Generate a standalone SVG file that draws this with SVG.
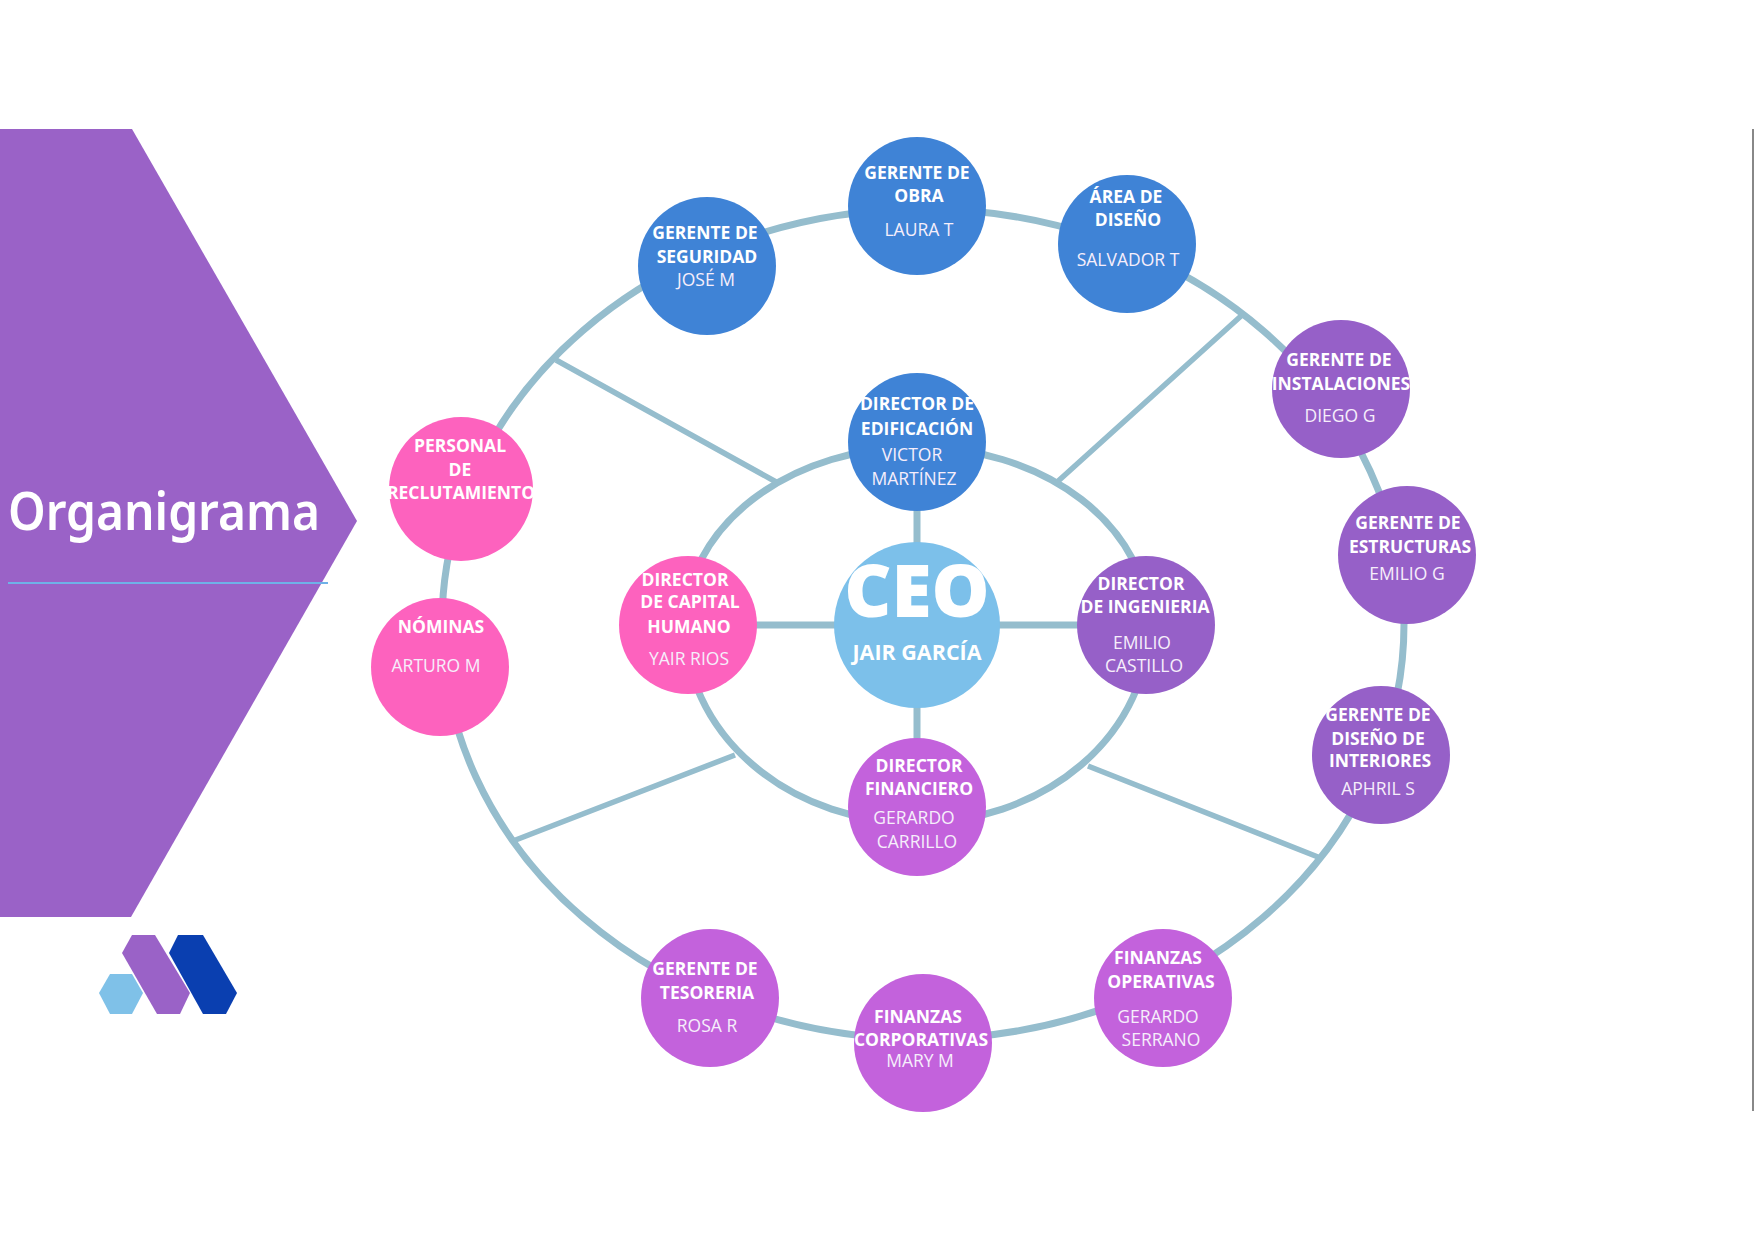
<svg xmlns="http://www.w3.org/2000/svg" width="1755" height="1240" viewBox="0 0 1755 1240">
<style>
text{font-family:"Open Sans","Noto Sans","Liberation Sans",sans-serif;fill:#fff;text-anchor:middle}
.t{font-weight:700;font-size:17.5px}
.n{font-weight:400;font-size:17.5px;fill:#f6eefb}
.ring{fill:none;stroke:#95bdcd;stroke-width:7}
.spoke{fill:none;stroke:#95bdcd;stroke-width:5.5}
.blue{fill:#3f83d6}.pink{fill:#fd62be}.purple{fill:#9660c8}.lilac{fill:#c362dc}.sky{fill:#7cc0ea}
</style>
<rect width="1755" height="1240" fill="#fff"/>
<g id="banner">
<polygon points="0,129 132,129 357,521 131,917 0,917" fill="#9a62c7"/>
<text x="8" y="530" textLength="312" lengthAdjust="spacingAndGlyphs" style="font-family:'Noto Sans','Open Sans',sans-serif;font-weight:600;font-size:53px;text-anchor:start">Organigrama</text>
<line x1="8" y1="583" x2="328" y2="583" stroke="#6fb1e8" stroke-width="2"/>
</g>
<g id="logo">
<polygon points="99,993 110,974 132,974 143,993 132,1014 110,1014" fill="#7fc1e8"/>
<polygon points="122,953 132,935 155,935 190,993 180,1014 157,1014" fill="#9a62c7"/>
<polygon points="169,953 178,935 203,935 237,993 226,1014 203,1014" fill="#0a3fb0"/>
</g>
<line id="edge" x1="1753" y1="129" x2="1753" y2="1111" stroke="#888" stroke-width="2"/>
<g id="connectors">
<ellipse class="ring" cx="923" cy="624" rx="481" ry="415"/>
<path class="ring" d="M685,625A232,178 0 0 1 1149,625A232,198 0 0 1 685,625Z"/>
<path class="spoke" d="M556,360L778,483M1241,316L1056,483M513,841L735,755M1318,857L1088,766"/>
<path class="ring" d="M917,510V740M688,625H1145"/>
</g>
<g id="gerente-obra"><circle class="blue" cx="917" cy="206" r="69"/><text class="t" x="917" y="179">GERENTE DE</text><text class="t" x="919" y="202">OBRA</text><text class="n" x="919" y="236">LAURA T</text></g>
<g id="area-diseno"><circle class="blue" cx="1127" cy="244" r="69"/><text class="t" x="1126" y="203">ÁREA DE</text><text class="t" x="1128" y="226">DISEÑO</text><text class="n" x="1128" y="266">SALVADOR T</text></g>
<g id="gerente-seguridad"><circle class="blue" cx="707" cy="266" r="69"/><text class="t" x="705" y="239">GERENTE DE</text><text class="t" x="707" y="263">SEGURIDAD</text><text class="n" x="706" y="286">JOSÉ M</text></g>
<g id="gerente-instalaciones"><circle class="purple" cx="1341" cy="389" r="69"/><text class="t" x="1339" y="366">GERENTE DE</text><text class="t" x="1341" y="390">INSTALACIONES</text><text class="n" x="1340" y="422">DIEGO G</text></g>
<g id="gerente-estructuras"><circle class="purple" cx="1407" cy="555" r="69"/><text class="t" x="1408" y="529">GERENTE DE</text><text class="t" x="1410" y="553">ESTRUCTURAS</text><text class="n" x="1407" y="580">EMILIO G</text></g>
<g id="gerente-interiores"><circle class="purple" cx="1381" cy="755" r="69"/><text class="t" x="1378" y="721">GERENTE DE</text><text class="t" x="1378" y="745">DISEÑO DE</text><text class="t" x="1380" y="767">INTERIORES</text><text class="n" x="1378" y="795">APHRIL S</text></g>
<g id="finanzas-operativas"><circle class="lilac" cx="1163" cy="998" r="69"/><text class="t" x="1158" y="964">FINANZAS</text><text class="t" x="1161" y="988">OPERATIVAS</text><text class="n" x="1158" y="1023">GERARDO</text><text class="n" x="1161" y="1046">SERRANO</text></g>
<g id="finanzas-corporativas"><circle class="lilac" cx="923" cy="1043" r="69"/><text class="t" x="918" y="1023">FINANZAS</text><text class="t" x="921" y="1046">CORPORATIVAS</text><text class="n" x="920" y="1067">MARY M</text></g>
<g id="gerente-tesoreria"><circle class="lilac" cx="710" cy="998" r="69"/><text class="t" x="705" y="975">GERENTE DE</text><text class="t" x="707" y="999">TESORERIA</text><text class="n" x="707" y="1032">ROSA R</text></g>
<g id="nominas"><circle class="pink" cx="440" cy="667" r="69"/><text class="t" x="441" y="633">NÓMINAS</text><text class="n" x="436" y="672">ARTURO M</text></g>
<g id="personal-reclutamiento"><circle class="pink" cx="461" cy="489" r="72"/><text class="t" x="460" y="452">PERSONAL</text><text class="t" x="460" y="476">DE</text><text class="t" x="461" y="499">RECLUTAMIENTO</text></g>
<g id="director-edificacion"><circle class="blue" cx="917" cy="442" r="69"/><text class="t" x="917" y="410">DIRECTOR DE</text><text class="t" x="917" y="435">EDIFICACIÓN</text><text class="n" x="912" y="461">VICTOR</text><text class="n" x="914" y="485">MARTÍNEZ</text></g>
<g id="director-capital"><circle class="pink" cx="688" cy="625" r="69"/><text class="t" x="685" y="586">DIRECTOR</text><text class="t" x="690" y="608">DE CAPITAL</text><text class="t" x="689" y="633">HUMANO</text><text class="n" x="689" y="665">YAIR RIOS</text></g>
<g id="director-ingenieria"><circle class="purple" cx="1146" cy="625" r="69"/><text class="t" x="1141" y="590">DIRECTOR</text><text class="t" x="1145" y="613">DE INGENIERIA</text><text class="n" x="1142" y="649">EMILIO</text><text class="n" x="1144" y="672">CASTILLO</text></g>
<g id="director-financiero"><circle class="lilac" cx="917" cy="807" r="69"/><text class="t" x="919" y="772">DIRECTOR</text><text class="t" x="919" y="795">FINANCIERO</text><text class="n" x="914" y="824">GERARDO</text><text class="n" x="917" y="848">CARRILLO</text></g>
<g id="ceo"><circle class="sky" cx="917" cy="625" r="83"/><text x="917" y="617" style="font-weight:800;font-size:73px">CEO</text><text x="917" y="660" style="font-weight:700;font-size:21.5px">JAIR GARCÍA</text></g>
</svg>
